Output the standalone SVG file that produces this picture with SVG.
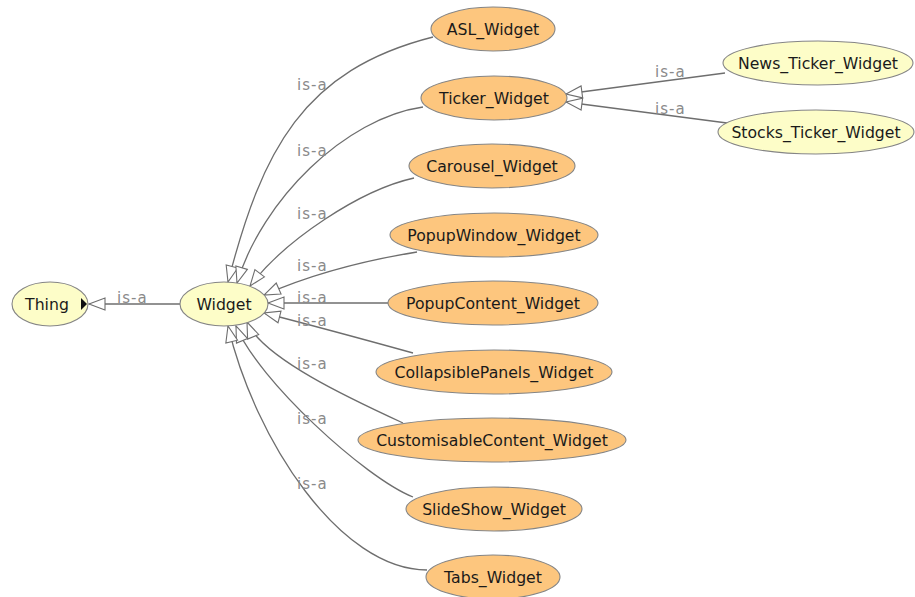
<svg xmlns="http://www.w3.org/2000/svg" width="915" height="597" viewBox="0 0 915 597">
<defs>
<marker id="tri" markerUnits="userSpaceOnUse" markerWidth="20" markerHeight="16" viewBox="-1 -8 19 16" refX="16" refY="0" orient="auto">
<path d="M0,-6 L16,0 L0,6 Z" fill="#fff" stroke="#6e6e6e" stroke-width="1.1"/>
</marker>
<style>
.e{fill:none;stroke:#6e6e6e;stroke-width:1.3}
.l{font-family:"DejaVu Sans",sans-serif;font-size:15px;fill:#8a8a8a;letter-spacing:1px}
.o{fill:#fdc67e;stroke:#858585;stroke-width:1.1}
.y{fill:#fdfdc8;stroke:#858585;stroke-width:1.1}
.t{font-family:"DejaVu Sans",sans-serif;font-size:15.7px;fill:#1a1a1a;text-anchor:middle}
</style>
</defs>
<rect width="915" height="597" fill="#fff"/>
<g id="connectors">
<path class="e" d="M180 304 L89 304" marker-end="url(#tri)"/>
<path class="e" d="M433 37 C303 70 262 150 228 282" marker-end="url(#tri)"/>
<path class="e" d="M423 107 C345 118 262 200 237 283" marker-end="url(#tri)"/>
<path class="e" d="M414 178 C360 190 285 240 250 286" marker-end="url(#tri)"/>
<path class="e" d="M417 252 Q330 266 264 295" marker-end="url(#tri)"/>
<path class="e" d="M388 303 L268 303" marker-end="url(#tri)"/>
<path class="e" d="M413 353 Q330 330 264 313" marker-end="url(#tri)"/>
<path class="e" d="M403 423 C353 400 262 358 247 322" marker-end="url(#tri)"/>
<path class="e" d="M413 497 C365 478 258 380 236 326" marker-end="url(#tri)"/>
<path class="e" d="M427 570 C340 570 255 440 228 326" marker-end="url(#tri)"/>
<path class="e" d="M725 73 L566 94" marker-end="url(#tri)"/>
<path class="e" d="M727 123 L566 102" marker-end="url(#tri)"/>
<text class="l" x="117" y="303">is-a</text>
<text class="l" x="297" y="90">is-a</text>
<text class="l" x="297" y="156">is-a</text>
<text class="l" x="297" y="219">is-a</text>
<text class="l" x="297" y="271">is-a</text>
<text class="l" x="297" y="303">is-a</text>
<text class="l" x="297" y="326">is-a</text>
<text class="l" x="297" y="369">is-a</text>
<text class="l" x="297" y="424">is-a</text>
<text class="l" x="297" y="489">is-a</text>
<text class="l" x="655" y="77">is-a</text>
<text class="l" x="655" y="114">is-a</text>
</g>
<g id="Thing"><ellipse class="y" cx="50" cy="304" rx="38" ry="22"/><text class="t" x="47" y="310">Thing</text><path d="M81 298 L87 304 L81 310 Z" fill="#111"/></g>
<g id="Widget"><ellipse class="y" cx="224" cy="304" rx="44" ry="22"/><text class="t" x="224" y="310">Widget</text></g>
<g id="ASL_Widget"><ellipse class="o" cx="493" cy="29" rx="62" ry="22"/><text class="t" x="493" y="35">ASL_Widget</text></g>
<g id="Ticker_Widget"><ellipse class="o" cx="494" cy="98" rx="73" ry="22"/><text class="t" x="494" y="104">Ticker_Widget</text></g>
<g id="Carousel_Widget"><ellipse class="o" cx="492" cy="166" rx="83" ry="22"/><text class="t" x="492" y="172">Carousel_Widget</text></g>
<g id="PopupWindow_Widget"><ellipse class="o" cx="494" cy="235" rx="104" ry="22"/><text class="t" x="494" y="241">PopupWindow_Widget</text></g>
<g id="PopupContent_Widget"><ellipse class="o" cx="493" cy="303" rx="105" ry="22"/><text class="t" x="493" y="309">PopupContent_Widget</text></g>
<g id="CollapsiblePanels_Widget"><ellipse class="o" cx="494" cy="372" rx="118" ry="22"/><text class="t" x="494" y="378">CollapsiblePanels_Widget</text></g>
<g id="CustomisableContent_Widget"><ellipse class="o" cx="492" cy="440" rx="134" ry="22"/><text class="t" x="492" y="446">CustomisableContent_Widget</text></g>
<g id="SlideShow_Widget"><ellipse class="o" cx="494" cy="509" rx="88" ry="22"/><text class="t" x="494" y="515">SlideShow_Widget</text></g>
<g id="Tabs_Widget"><ellipse class="o" cx="493" cy="577" rx="67" ry="22"/><text class="t" x="493" y="583">Tabs_Widget</text></g>
<g id="News_Ticker_Widget"><ellipse class="y" cx="818" cy="63" rx="95" ry="22"/><text class="t" x="818" y="69">News_Ticker_Widget</text></g>
<g id="Stocks_Ticker_Widget"><ellipse class="y" cx="816" cy="132" rx="98" ry="22"/><text class="t" x="816" y="138">Stocks_Ticker_Widget</text></g>
</svg>
